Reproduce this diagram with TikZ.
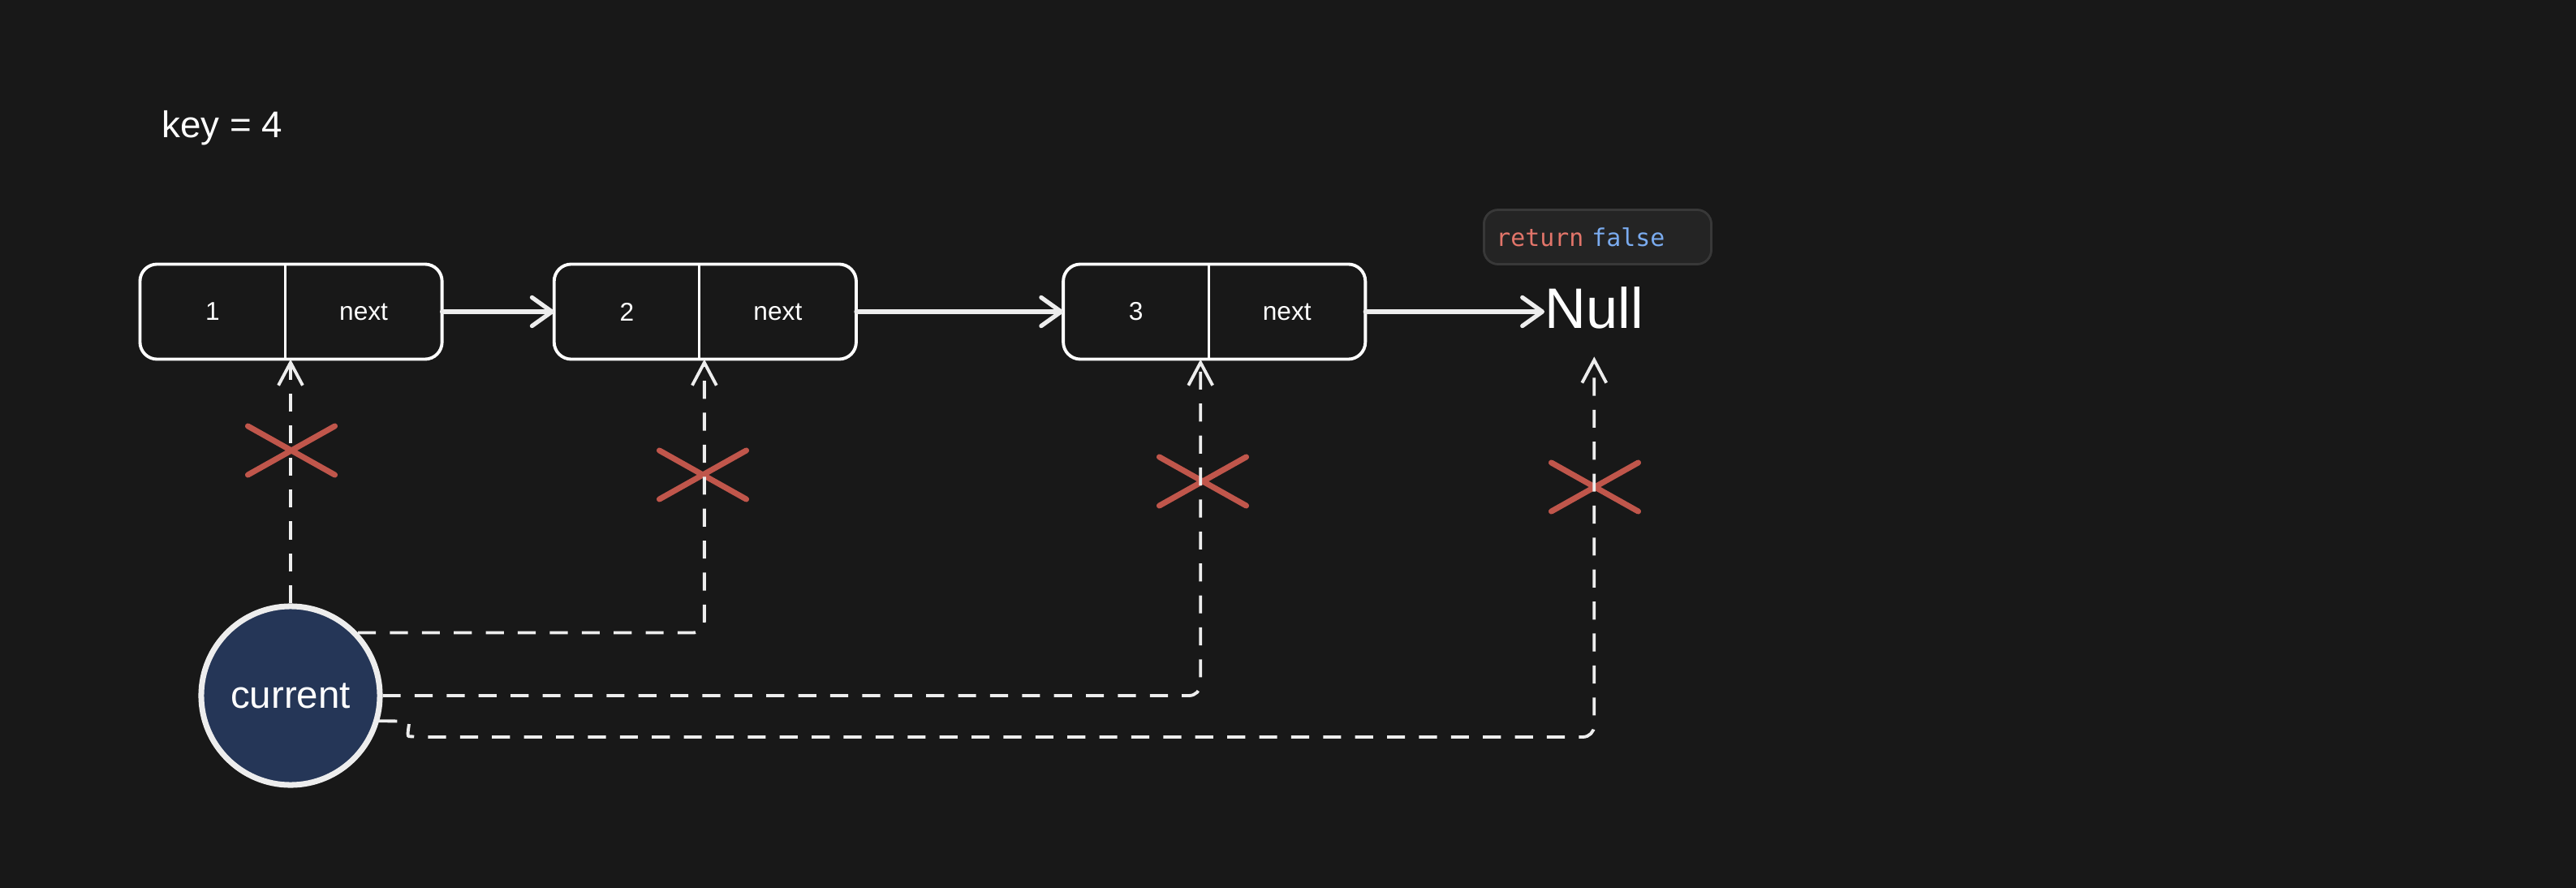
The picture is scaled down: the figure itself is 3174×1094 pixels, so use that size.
\documentclass[tikz,border=0pt]{standalone}
\usepackage{fontspec}
\setmainfont{Liberation Sans}
\setmonofont{DejaVu Sans Mono}
\usetikzlibrary{positioning,arrows.meta,shapes.misc}

\definecolor{bg}{HTML}{181818}
\definecolor{ink}{HTML}{EDEDED}
\definecolor{curfill}{HTML}{253657}
\definecolor{crossred}{HTML}{C0564B}
\definecolor{codebg}{HTML}{242424}
\definecolor{codeline}{HTML}{383838}
\definecolor{kwred}{HTML}{E2756A}
\definecolor{kwblue}{HTML}{7AABEF}

\begin{document}
\begin{tikzpicture}[x=0.01cm, y=-0.01cm,
  val/.style={minimum width=1.79cm, minimum height=1.17cm, inner sep=0pt, outer sep=0pt,
    text=white, font=\fontsize{9}{11}\selectfont},
  ptr/.style={val, minimum width=1.93cm},
  box/.style={draw=white, line width=1.1pt, rounded corners=6pt},
  divider/.style={draw=white, line width=0.8pt},
  link/.style={draw=ink, line width=1.5pt, line cap=round,
    -{Straight Barb[length=7pt,width=10pt,round]}},
  walk/.style={draw=ink, line width=1.1pt, dash pattern=on 6.3pt off 4.9pt,
    rounded corners=4pt, -{Straight Barb[length=8pt,width=8.5pt]}},
  miss/.style={cross out, draw=crossred, line width=2pt, line cap=round,
    inner sep=0pt, minimum width=1cm, minimum height=0.53cm},
]
  \fill[bg] (0,0) rectangle (3174,1094);
  \useasboundingbox (0,0) rectangle (3174,1094);

  \node[anchor=base west, inner sep=0pt, text=white, font=\fontsize{13}{15}\selectfont] (key) at (199,170) {key = 4};

  % the list
  \node[val] (v1) at (262,384) {1};
  \node[ptr, right=0pt of v1] (p1) {next};
  \node[val, right=1.38cm of p1] (v2) {2};
  \node[ptr, right=0pt of v2] (p2) {next};
  \node[val, right=2.55cm of p2] (v3) {3};
  \node[ptr, right=0pt of v3] (p3) {next};
  \node[anchor=base west, inner sep=0pt, text=white, font=\fontsize{20}{24}\selectfont] (null) at (1903,404) {Null};

  \draw[box] (v1.north west) rectangle (p1.south east);
  \draw[box] (v2.north west) rectangle (p2.south east);
  \draw[box] (v3.north west) rectangle (p3.south east);
  \draw[divider] (v1.north east) -- (v1.south east);
  \draw[divider] (v2.north east) -- (v2.south east);
  \draw[divider] (v3.north east) -- (v3.south east);

  \draw[link] (p1.east) -- (v2.west);
  \draw[link] (p2.east) -- (v3.west);
  \draw[link] (p3.east) -- (p3.east -| null.west);

  \node[anchor=west, fill=codebg, draw=codeline, line width=0.8pt, rounded corners=5pt,
    minimum height=0.67cm, text width=2.5cm, inner xsep=0.15cm,
    font=\ttfamily\fontsize{8.5}{10}\selectfont] (ret) at (1827,292)
    {\textcolor{kwred}{return} \textcolor{kwblue}{false}};

  % current pointer
  \node[circle, draw=ink, line width=2pt, fill=curfill, minimum size=2.2cm, inner sep=0pt,
    text=white, font=\fontsize{13.5}{16}\selectfont] (cur) at (358,857) {current};

  \node[miss] (x1) at (359,555) {};
  \node[miss] (x2) at (866,585) {};
  \node[miss] (x3) at (1482,593) {};
  \node[miss] (x4) at (1965,600) {};

  \draw[walk] (cur.north) -- (cur.north |- v1.south);
  \draw[walk] (cur.43) -| ([xshift=0.06cm]v2.south east);
  \draw[walk] (cur.east) -| ([xshift=-0.1cm]v3.south east);
  \draw[walk] (cur.-16) -- ++(22,0) .. controls (506,889) and (500,907) .. (518,908)
    -| ([yshift=-0.34cm]null.south);
\end{tikzpicture}
\end{document}
